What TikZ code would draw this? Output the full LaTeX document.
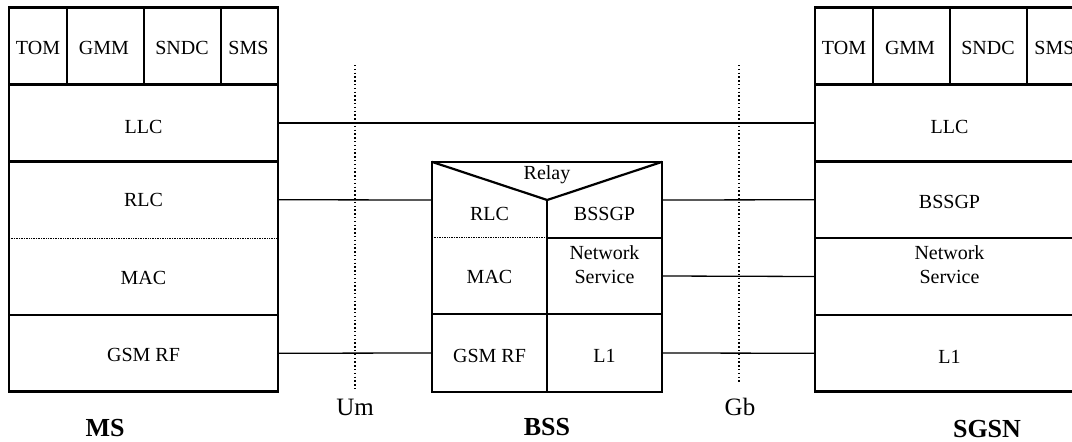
\documentclass[tikz,border=0pt]{standalone}
\usepackage{fontspec}
\setmainfont{Liberation Serif}
\begin{document}
\begin{tikzpicture}[x=1pt,y=-1pt,
  cell/.style 2 args={draw, line width=2.2pt, inner sep=0pt, minimum width=#1pt, minimum height=#2pt},
  area/.style 2 args={inner sep=0pt, minimum width=#1pt, minimum height=#2pt},
  thickline/.style={line width=2.2pt},
  conn/.style={line width=1.3pt},
  sepdot/.style={line width=0.8pt, dash pattern=on 0.8pt off 0.9pt},
  ifdot/.style={line width=1.3pt, dash pattern=on 1.4pt off 2.4pt},
  txt/.style={inner sep=0pt, font=\fontsize{20}{24}\selectfont, align=center},
  iftxt/.style={inner sep=0pt, font=\fontsize{25}{28}\selectfont},
  ent/.style={inner sep=0pt, font=\fontsize{26}{30}\selectfont\bfseries}]
\useasboundingbox (0,0) rectangle (1072,442);

% ---------------- MS ----------------
\node[cell={57.7}{77}] (mstom) at (37.85,46) {};
\node[cell={77.3}{77}] (msgmm) at (105.35,46) {};
\node[cell={76.7}{77}] (mssndc) at (182.35,46) {};
\node[cell={57.3}{77}] (mssms) at (249.35,46) {};
\node[cell={269}{77}] (msllc) at (143.5,123) {};
\node[area={269}{76.5}] (msrlc) at (143.5,199.75) {};
\node[area={269}{77}] (msmac) at (143.5,276.5) {};
\node[cell={269}{76.5}] (msgsm) at (143.5,353.25) {};
\draw[thickline] (msrlc.north west) rectangle (msmac.south east);
\draw[sepdot] (msrlc.south west) -- (msrlc.south east);
\node[txt] (t-mstom) at (38,48) {TOM};
\node[txt] (t-msgmm) at (104,48) {GMM};
\node[txt] (t-mssndc) at (182,48) {SNDC};
\node[txt] (t-mssms) at (248.5,48) {SMS};
\node[txt] (t-msllc) at (143.5,127) {LLC};
\node[txt] (t-msrlc) at (143.5,200) {RLC};
\node[txt] (t-msmac) at (143.5,278) {MAC};
\node[txt] (t-msgsm) at (143.5,355) {GSM RF};
\node[ent] (l-ms) at (105,428) {MS};

% ---------------- SGSN ----------------
\node[cell={57.7}{77}] (sgtom) at (843.85,46) {};
\node[cell={77.3}{77}] (sggmm) at (911.35,46) {};
\node[cell={76.7}{77}] (sgsndc) at (988.35,46) {};
\node[cell={57.3}{77}] (sgsms) at (1055.35,46) {};
\node[cell={269}{77}] (sgllc) at (949.5,123) {};
\node[cell={269}{76.5}] (sgbssgp) at (949.5,199.75) {};
\node[cell={269}{77}] (sgns) at (949.5,276.5) {};
\node[cell={269}{76.5}] (sgl1) at (949.5,353.25) {};
\node[txt] (t-sgtom) at (844,48) {TOM};
\node[txt] (t-sggmm) at (910,48) {GMM};
\node[txt] (t-sgsndc) at (988,48) {SNDC};
\node[txt] (t-sgsms) at (1054.5,48) {SMS};
\node[txt] (t-sgllc) at (949.5,127) {LLC};
\node[txt] (t-sgbssgp) at (949.5,202) {BSSGP};
\node[txt] (t-sgns) at (949.5,265) {Network\\Service};
\node[txt] (t-sgl1) at (949.5,357) {L1};
\node[ent] (l-sgsn) at (987,429) {SGSN};

% ---------------- BSS ----------------
\node[area={115}{76}] (bssrlc) at (489.5,200) {};
\node[area={115}{76}] (bssmac) at (489.5,276) {};
\node[area={115}{78}] (bssgsm) at (489.5,353) {};
\node[area={115}{76}] (bssbssgp) at (604.5,200) {};
\node[area={115}{76}] (bssns) at (604.5,276) {};
\node[area={115}{78}] (bssl1) at (604.5,353) {};
\draw[thickline] (bssrlc.north west) rectangle (bssl1.south east);
\draw[thickline] (bssrlc.north west) -- (bssrlc.east) -- (bssbssgp.north east);
\draw[thickline] (bssrlc.east) -- (bssgsm.south east);
\draw[thickline] (bssns.north west) -- (bssns.north east);
\draw[thickline] (bssgsm.north west) -- (bssl1.north east);
\draw[sepdot] (bssmac.north west) -- (bssmac.north east);
\node[txt] (t-relay) at (547,175) {Relay};
\node[txt] (t-bssrlc) at (489.5,214) {RLC};
\node[txt] (t-bssbssgp) at (604.5,214) {BSSGP};
\node[txt] (t-bssmac) at (489.5,277) {MAC};
\node[txt] (t-bssns) at (604.5,265) {Network\\Service};
\node[txt] (t-bssgsm) at (489.5,356) {GSM RF};
\node[txt] (t-bssl1) at (604.5,356) {L1};
\node[ent] (l-bss) at (547,427) {BSS};

% ---------------- connectors ----------------
\draw[conn] (msllc.east) -- (sgllc.west);
\draw[conn] (msrlc.east) -- (bssrlc.west);
\draw[conn] (msgsm.east) -- (bssgsm.west);
\draw[conn] (bssbssgp.east) -- (sgbssgp.west);
\draw[conn] (bssns.east) -- (sgns.west);
\draw[conn] (bssl1.east) -- (sgl1.west);

% ---------------- interfaces ----------------
\coordinate (um-top) at (355,65);
\coordinate (um-bot) at (355,391);
\coordinate (gb-top) at (739,65);
\coordinate (gb-bot) at (739,384);
\draw[ifdot] (um-top) -- (um-bot);
\draw[ifdot] (gb-top) -- (gb-bot);
\node[iftxt] (l-um) at (355,407) {Um};
\node[iftxt] (l-gb) at (740,407) {Gb};
\end{tikzpicture}
\end{document}
